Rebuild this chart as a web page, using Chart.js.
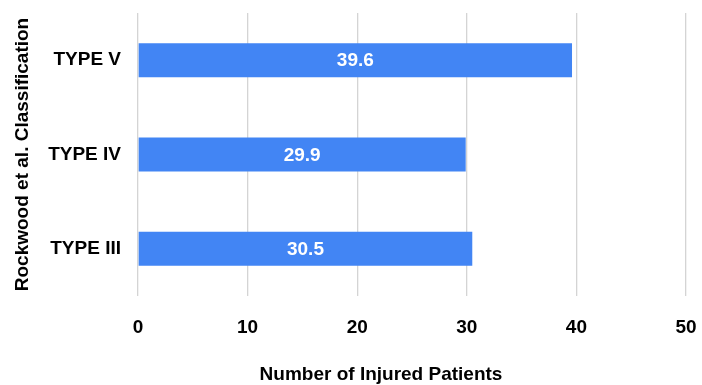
<!DOCTYPE html>
<html>
<head>
<meta charset="utf-8">
<script src="https://cdn.jsdelivr.net/npm/chart.js@4"></script>
<style>
  html, body { margin: 0; padding: 0; background: #fff; }
  #wrap { width: 702px; height: 385px; }
</style>
</head>
<body>
<div id="wrap"><canvas id="chart"></canvas></div>
<script>
// Chart data
const categories = ['TYPE V', 'TYPE IV', 'TYPE III'];
const values = [39.6, 29.9, 30.5];
const xTicks = [0, 10, 20, 30, 40, 50];

const barColor = '#4285f4';
const fontFamily = '"Liberation Sans", Arial, Helvetica, sans-serif';

// Writes the value in the middle of each bar
const barLabels = {
    id: 'barLabels',
    afterDatasetsDraw(chart) {
        const ctx = chart.ctx;
        ctx.save();
        ctx.fillStyle = '#ffffff';
        ctx.font = 'bold 19px ' + fontFamily;
        ctx.textAlign = 'center';
        ctx.textBaseline = 'middle';
        chart.getDatasetMeta(0).data.forEach((bar, i) => {
            ctx.fillText(values[i].toFixed(1), (bar.x + bar.base) / 2, bar.y + 1);
        });
        ctx.restore();
    }
};

// X axis title sits a bit left of the plot centre in the original
const xTitle = {
    id: 'xTitle',
    afterDraw(chart) {
        const ctx = chart.ctx;
        ctx.save();
        ctx.fillStyle = '#000000';
        ctx.font = 'bold 19px ' + fontFamily;
        ctx.textAlign = 'center';
        ctx.textBaseline = 'middle';
        ctx.fillText('Number of Injured Patients', 381, 375);
        ctx.restore();
    }
};

// no extra room for tick labels, the layout padding decides the plot box
function noPad(scale) {
    scale.paddingTop = 0;
    scale.paddingBottom = 0;
    scale.paddingLeft = 0;
    scale.paddingRight = 0;
}

function initChart() {
    const ctx = document.getElementById('chart').getContext('2d');
    new Chart(ctx, {
        type: 'bar',
        data: {
            labels: categories,
            datasets: [{
                data: values,
                backgroundColor: barColor,
                borderWidth: 0,
                barPercentage: 0.36,
                categoryPercentage: 1
            }]
        },
        options: {
            responsive: true,
            maintainAspectRatio: false,
            animation: false,
            indexAxis: 'y',
            layout: {
                padding: { top: 13, right: 16, left: 0, bottom: 0 }
            },
            plugins: {
                legend: { display: false },
                tooltip: { enabled: false }
            },
            scales: {
                x: {
                    min: 0,
                    max: 50,
                    afterBuildTicks: (scale) => {
                        scale.ticks = xTicks.map(v => ({ value: v }));
                    },
                    afterFit: (scale) => { scale.height = 89; noPad(scale); },
                    grid: {
                        color: '#d4d4d4',
                        lineWidth: 1.3,
                        drawTicks: false
                    },
                    border: { display: false },
                    ticks: {
                        padding: 20,
                        color: '#000000',
                        font: { family: fontFamily, size: 19, weight: 'bold' }
                    }
                },
                y: {
                    afterFit: (scale) => { scale.width = 138; noPad(scale); },
                    grid: { display: false, drawTicks: false },
                    border: { display: false },
                    ticks: {
                        padding: 17,
                        color: '#000000',
                        font: { family: fontFamily, size: 19, weight: 'bold' }
                    },
                    title: {
                        display: true,
                        text: 'Rockwood et al. Classification',
                        color: '#000000',
                        padding: { top: 11, bottom: 0 },
                        font: { family: fontFamily, size: 19, weight: 'bold' }
                    }
                }
            }
        },
        plugins: [barLabels, xTitle]
    });
}

document.addEventListener('DOMContentLoaded', initChart);
</script>
</body>
</html>
